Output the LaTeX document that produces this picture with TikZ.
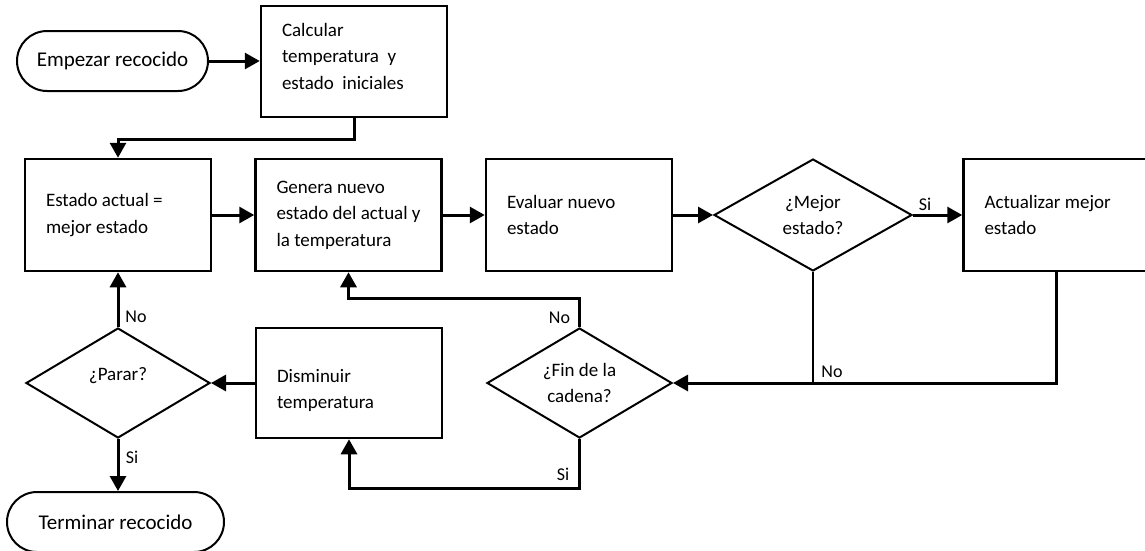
\documentclass[tikz,border=0pt]{standalone}
\usepackage{fontspec}
\setmainfont{Carlito}
\usetikzlibrary{shapes.geometric,arrows.meta,calc}
\begin{document}
\begin{tikzpicture}[x=1pt,y=-1pt,
  box/.style={draw,line width=2.5pt,rectangle,minimum width=186pt,minimum height=112pt,
    text width=144pt,inner xsep=21pt,inner ysep=0pt,align=flush left,
    font=\fontsize{19}{26.5}\selectfont},
  term/.style={draw,line width=2pt,rectangle,rounded corners=30pt,minimum height=60pt,
    inner sep=0pt,font=\fontsize{21}{25}\selectfont},
  dec/.style={draw,diamond,line width=2pt,inner sep=0pt,aspect=1.7,align=flush center,
    font=\fontsize{19}{26.5}\selectfont},
  conn/.style={line width=3pt,-{Triangle[length=15pt,width=16pt]}},
  plain/.style={line width=2pt},
  lbl/.style={inner sep=0pt,font=\fontsize{18}{20}\selectfont}]
\useasboundingbox (0,0) rectangle (1145,550);

% terminators
\node[term,minimum width=191pt] (start) at (112.5,61) {Empezar recocido};
\node[term,minimum width=217pt] (stop) at (115.5,522) {Terminar recocido};

% process boxes
\node[box,minimum height=111pt] (calc) at (354,61.5)
  {\raisebox{4pt}[\height][\depth]{\begin{tabular}{@{}l@{}}Calcular\\temperatura\ \ y\\estado\ \ iniciales\end{tabular}}};
\node[box] (est) at (118,215) {Estado actual =\\mejor estado};
\node[box] (gen) at (348.5,215) {Genera nuevo\\\mbox{estado del actual y}\\la temperatura};
\node[box] (eva) at (579,215) {Evaluar nuevo\\estado};
\node[box] (act) at (1056.5,215) {Actualizar mejor\\estado};
\node[box,minimum height=110pt] (dis) at (349,383)
  {\raisebox{-7pt}[\height][\depth]{\begin{tabular}{@{}l@{}}Disminuir\\temperatura\end{tabular}}};

% decisions
\node[dec,minimum width=198pt,minimum height=112pt] (mej) at (813,215) {¿Mejor\\estado?};
\node[dec,minimum width=185pt,minimum height=110pt] (fin) at (579.5,383) {¿Fin de la\\cadena?};
\node[dec,minimum width=184pt,minimum height=110pt] (par) at (118,383)
  {\raisebox{7pt}[\height][\depth]{¿Parar?}};

% connectors
\draw[conn] (start.east) -- (calc.west |- start.east);
\draw[conn] (calc.south) -- ++(0,21) -| (est.north);
\draw[conn] (est.east) -- (gen.west);
\draw[conn] (gen.east) -- (eva.west);
\draw[conn] (eva.east) -- (mej.west);
\draw[conn] (mej.east) -- (act.west);
\draw[conn] (act.south) |- (fin.east);
\draw[plain] (mej.south) -- (mej.south |- fin.east);
\draw[conn] (fin.north) -- ++(0,-29) -| (gen.south);
\draw[conn] (fin.south) -- ++(0,49) -| (dis.south);
\draw[conn] (dis.west) -- (par.east);
\draw[conn] (par.north) -- (est.south);
\draw[conn] (par.south) -- (par.south |- stop.north);

% labels
\node[lbl] (lsi1) at (925,204) {Si};
\node[lbl] (lno1) at (832,372) {No};
\node[lbl] (lno2) at (559.5,318) {No};
\node[lbl] (lsi2) at (563,474) {Si};
\node[lbl] (lno3) at (136,317) {No};
\node[lbl] (lsi3) at (132,457) {Si};
\end{tikzpicture}
\end{document}
